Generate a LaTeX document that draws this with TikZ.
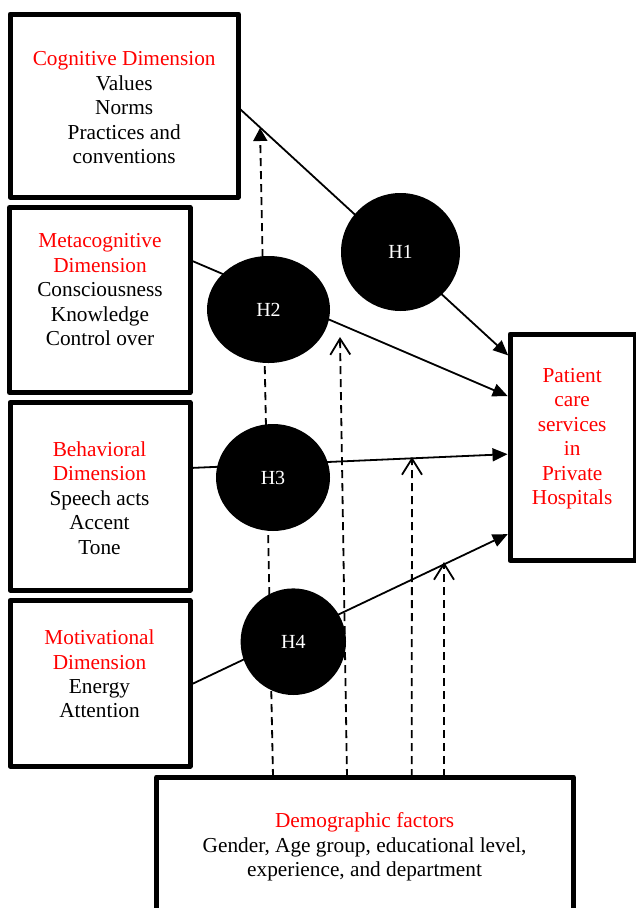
\documentclass[tikz,border=0pt]{standalone}
\usepackage{fontspec}
\setmainfont{Liberation Serif}
\usetikzlibrary{arrows.meta,shapes.geometric}
\tikzset{
  dimbox/.style={draw, line width=5pt, line join=round, inner sep=0pt, outer sep=0pt},
  dimtext/.style={font=\fontsize{21.3}{24.4}\selectfont, align=center, anchor=north, inner sep=0pt},
  hyp/.style={ellipse, fill=black, inner sep=0pt, outer sep=0pt, text=white, font=\fontsize{20}{24}\selectfont},
  conn/.style={line width=1.8pt, -{Triangle[length=15pt,width=13pt]}, shorten >=2.5pt},
  moder/.style={line width=1.8pt, dash pattern=on 8pt off 5pt, -{Straight Barb[length=16pt,width=20pt]}},
  hchain/.style={line width=1.8pt, dash pattern=on 8pt off 5pt, -{Triangle[length=13pt,width=14pt]}},
}
\begin{document}
\begin{tikzpicture}[x=1pt,y=-1pt]
\clip (0,0) rectangle (636,908);
\fill[white] (0,0) rectangle (636,908);

% boxes
\node[dimbox, minimum width=228.3pt, minimum height=183pt] (cog) at (124.2,105.5) {};
\node[dimbox, minimum width=180.5pt, minimum height=185pt] (meta) at (99.8,300) {};
\node[dimbox, minimum width=180pt, minimum height=187.5pt] (beh) at (100,496.3) {};
\node[dimbox, minimum width=180pt, minimum height=165.5pt] (mot) at (100,683.3) {};
\node[dimbox, minimum width=125.5pt, minimum height=226.5pt] (pat) at (572.75,447.3) {};
\node[dimbox, minimum width=416.6pt, minimum height=138pt] (demo) at (365,846) {};

% texts
\node[dimtext] (cogtxt) at (124.2,51.5) {\textcolor{red}{Cognitive Dimension}\\Values\\Norms\\Practices and\\conventions};
\node[dimtext] (metatxt) at (100,233.5) {\textcolor{red}{Metacognitive}\\\textcolor{red}{Dimension}\\Consciousness\\Knowledge\\Control over};
\node[dimtext] (behtxt) at (99.5,441.5) {\textcolor{red}{Behavioral}\\\textcolor{red}{Dimension}\\Speech acts\\Accent\\Tone};
\node[dimtext] (mottxt) at (99.5,629.8) {\textcolor{red}{Motivational}\\\textcolor{red}{Dimension}\\Energy\\Attention};
\node[dimtext, text=red] (pattxt) at (572.2,368.2) {Patient\\care\\services\\in\\Private\\Hospitals};
\node[dimtext] (demotxt) at (364.6,812.7) {\textcolor{red}{Demographic factors}\\Gender, Age group, educational level,\\experience, and department};

% free ends of the dashed connectors
\coordinate (tA) at (260,128);
\coordinate (tB) at (340,337);
\coordinate (tC) at (412,457);
\coordinate (tD) at (444,562);

% solid connectors
\draw[conn] ([yshift=-2pt]cog.east) -- ([yshift=-23pt]pat.north west);
\draw[conn] ([yshift=40pt]meta.east) -- ([yshift=-63pt]pat.north west);
\draw[conn] ([yshift=28.3pt]beh.east) -- ([yshift=-120pt]pat.north west);
\draw[conn] ([yshift=-1.7pt]mot.east) -- ([yshift=-199pt]pat.north west);

% dashed connectors
\draw[hchain] ([xshift=116.3pt]demo.north west) -- (tA);
\draw[moder] ([xshift=190.3pt]demo.north west) -- (tB);
\draw[moder] ([xshift=255pt]demo.north west) -- (tC);
\draw[moder] ([xshift=287.3pt]demo.north west) -- (tD);

% hypotheses
\node[hyp, minimum width=119pt, minimum height=118pt] (h1) at (400.5,252) {H1};
\node[hyp, minimum width=123pt, minimum height=107pt] (h2) at (268.5,309.5) {H2};
\node[hyp, minimum width=114pt, minimum height=107pt] (h3) at (273,477.5) {H3};
\node[hyp, minimum width=105.4pt, minimum height=106.6pt] (h4) at (293.3,641.7) {H4};
\end{tikzpicture}
\end{document}
